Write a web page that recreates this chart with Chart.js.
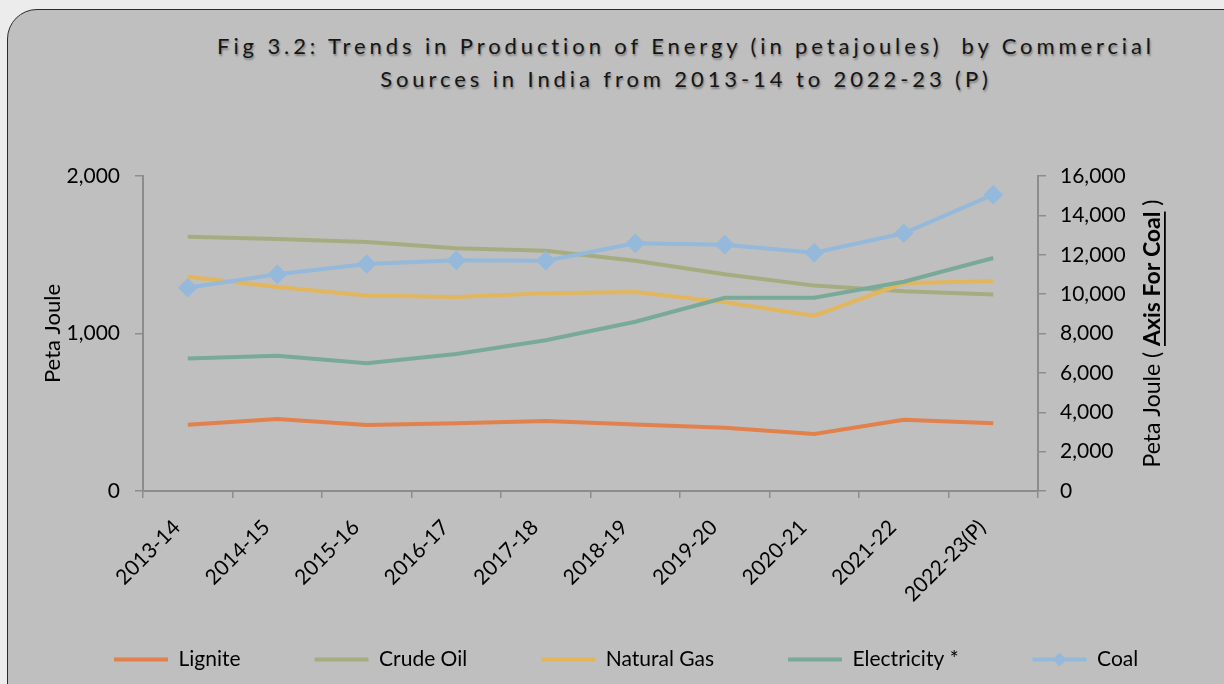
<!DOCTYPE html>
<html><head><meta charset="utf-8">
<script src="https://cdn.jsdelivr.net/npm/chart.js@4.4.0/dist/chart.umd.min.js"></script>
<style>
html,body{margin:0;padding:0;background:#ececec;width:1224px;height:684px;overflow:hidden;}
#frame{position:absolute;left:7px;top:9px;width:1250px;height:720px;background:#bfbfbf;border:1.5px solid #2b2b2b;border-radius:30px;box-sizing:border-box;}
#title{position:absolute;left:186px;top:29px;width:1000px;text-align:center;font-family:Lato,sans-serif;font-size:22px;letter-spacing:3.9px;line-height:33px;color:#151515;text-shadow:1px 2px 2px rgba(0,0,0,0.35);white-space:nowrap;}
#c{position:absolute;left:0;top:0;}
</style></head>
<body>
<div id="frame"></div>
<div id="title">Fig 3.2: Trends in Production of Energy (in petajoules)&nbsp; by Commercial<br>Sources in India from 2013-14 to 2022-23 (P)</div>
<canvas id="c" width="1224" height="684"></canvas>
<script>
const categories = ['2013-14','2014-15','2015-16','2016-17','2017-18','2018-19','2019-20','2020-21','2021-22','2022-23(P)'];
const lignite     = [421, 457, 419, 430, 444, 423, 402, 362, 453, 430];
const crudeOil    = [1615, 1600, 1581, 1541, 1526, 1462, 1376, 1304, 1268, 1247];
const naturalGas  = [1361, 1295, 1242, 1232, 1255, 1263, 1198, 1113, 1319, 1333];
const electricity = [842, 859, 811, 870, 957, 1075, 1227, 1227, 1329, 1479];
const coal        = [10325, 11006, 11530, 11717, 11700, 12581, 12512, 12104, 13090, 15050];
const leftTicks  = [0, 1000, 2000];
const rightTicks = [0, 2000, 4000, 6000, 8000, 10000, 12000, 14000, 16000];

const AXIS = '#8c8c8c';
Chart.defaults.font.family = 'Lato';
Chart.defaults.font.size = 21;
Chart.defaults.color = '#000';

function ds(label, data, color, order, axis, extra) {
  return Object.assign({label, data, borderColor: color, backgroundColor: color, borderWidth: 4,
    pointRadius: 0, tension: 0, yAxisID: axis, order}, extra || {});
}

const extras = {
  id: 'extras',
  afterLayout(chart) {
    // let the rotated category labels run below the axis box without being clipped
    const x = chart.scales.x;
    x._computeLabelArea = () => undefined;
  },
  afterDraw(chart) {
    const ctx = chart.ctx, a = chart.chartArea;
    const parts = [['Peta Joule ( ', false], ['Axis For Coal', true], [' )', false]];
    ctx.save();
    ctx.translate(1153, (a.top + a.bottom) / 2);
    ctx.rotate(-Math.PI / 2);
    ctx.textBaseline = 'middle';
    ctx.fillStyle = '#000';
    let total = 0;
    const w = parts.map(p => { ctx.font = (p[1] ? 'bold ' : '') + '23px Lato'; const m = ctx.measureText(p[0]).width; total += m; return m; });
    let x = -total / 2;
    parts.forEach((p, i) => {
      ctx.font = (p[1] ? 'bold ' : '') + '23px Lato';
      ctx.fillText(p[0], x, 0);
      if (p[1]) { ctx.fillRect(x, 11, w[i], 1.8); }
      x += w[i];
    });
    ctx.restore();
    // diamond marker in the Coal legend item
    const lg = chart.legend;
    if (lg && lg.legendHitBoxes && lg.legendHitBoxes[4]) {
      const hb = lg.legendHitBoxes[4];
      const cx = hb.left + 27, cy = hb.top + hb.height / 2;
      ctx.save();
      ctx.fillStyle = '#95b9da';
      ctx.beginPath();
      ctx.moveTo(cx, cy - 7); ctx.lineTo(cx + 7, cy); ctx.lineTo(cx, cy + 7); ctx.lineTo(cx - 7, cy); ctx.closePath();
      ctx.fill();
      ctx.restore();
    }
  }
};

new Chart(document.getElementById('c'), {
  type: 'line',
  data: {
    labels: categories,
    datasets: [
      ds('Lignite', lignite, '#e2814b', 4, 'y'),
      ds('Crude Oil', crudeOil, '#a5ad80', 3, 'y'),
      ds('Natural Gas', naturalGas, '#e2b65d', 2, 'y'),
      ds('Electricity *', electricity, '#79aa98', 1, 'y'),
      ds('Coal', coal, '#95b9da', 0, 'y1', {pointRadius: 7, pointStyle: 'rectRot', pointHoverRadius: 7})
    ]
  },
  options: {
    responsive: false,
    animation: false,
    layout: {padding: {left: 40, right: 0, top: 176, bottom: 4}},
    plugins: {
      title: {display: false},
      tooltip: {enabled: false},
      legend: {
        position: 'bottom', align: 'start',
        labels: {
          boxWidth: 54, boxHeight: 4, padding: 74, color: '#000', font: {size: 21},
          sort: (a, b) => a.datasetIndex - b.datasetIndex,
          generateLabels: (chart) => chart.data.datasets.map((d, i) => ({
            text: d.label, fillStyle: d.borderColor, strokeStyle: d.borderColor, lineWidth: 0,
            hidden: false, datasetIndex: i
          }))
        }
      }
    },
    scales: {
      x: {
        offset: true,
        grid: {offset: true, drawOnChartArea: false, tickLength: 7, color: AXIS, lineWidth: 1.5},
        border: {color: AXIS, width: 2},
        ticks: {minRotation: 45, maxRotation: 45, padding: 17, labelOffset: -11, color: '#000'},
        afterFit: s => { s.height = 84; }
      },
      y: {
        position: 'left', min: 0, max: 2000,
        afterBuildTicks: s => { s.ticks = leftTicks.map(v => ({value: v})); },
        grid: {drawOnChartArea: false, tickLength: 8, color: AXIS, lineWidth: 1.5},
        border: {color: AXIS, width: 2},
        ticks: {padding: 15, color: '#000'},
        title: {display: true, text: 'Peta Joule', color: '#000', padding: 0, font: {size: 22}},
        afterFit: s => { s.width = 103; }
      },
      y1: {
        position: 'right', min: 0, max: 16000,
        afterBuildTicks: s => { s.ticks = rightTicks.map(v => ({value: v})); },
        grid: {drawOnChartArea: false, tickLength: 8, color: AXIS, lineWidth: 1.5},
        border: {color: AXIS, width: 2},
        ticks: {padding: 14, color: '#000'},
        afterFit: s => { s.width = 186; }
      }
    }
  },
  plugins: [extras]
});
</script>
</body></html>
